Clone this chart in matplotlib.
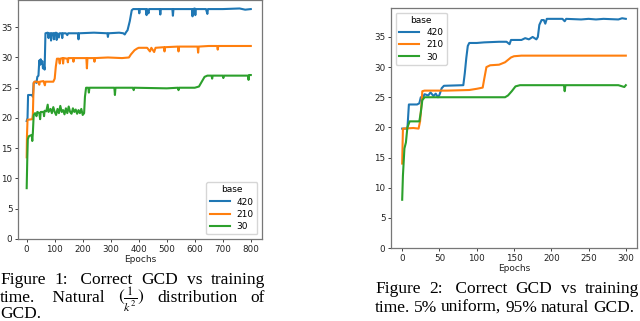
import matplotlib
matplotlib.use("Agg")
import matplotlib.pyplot as plt

# series 1: natural distribution, 800 epochs  (epoch, correct GCD)
nat_420 = [(0, 19.5), (3, 20), (5, 23.8), (20, 23.8), (22, 23.5), (25, 25.8), (30, 26), (35, 25.8),
           (38, 26.8), (42, 27), (45, 29.5), (48, 28.8), (50, 29.7), (53, 29), (56, 29.4), (58, 28.2),
           (62, 28.5), (64, 28), (67, 34), (75, 34.1), (78, 33.2), (80, 34), (85, 34), (87, 32.8),
           (89, 34), (95, 34), (97, 33.0), (99, 34), (105, 34.1), (107, 32.9), (109, 34), (115, 33.3),
           (117, 34), (125, 34), (127, 33.2), (129, 34), (140, 34), (145, 33.7), (148, 34), (183, 34),
           (185, 33), (187, 34), (240, 34.1), (288, 34), (290, 33.4), (292, 34), (330, 34.1), (345, 34),
           (350, 33.8), (355, 34.2), (360, 34.5), (368, 36), (375, 37.8), (380, 38), (400, 38),
           (402, 37.3), (404, 38), (425, 38), (428, 37.0), (430, 38), (435, 37.3), (437, 38), (475, 38),
           (477, 37.1), (479, 38), (520, 38), (522, 36.9), (524, 38), (590, 38), (592, 36.8), (594, 38),
           (600, 38.1), (602, 37.0), (604, 38), (640, 38), (645, 37.2), (647, 38), (700, 38), (760, 38.1),
           (780, 37.9), (800, 38)]
nat_210 = [(0, 13.5), (1, 17), (3, 19.7), (20, 19.8), (22, 20.5), (25, 25.8), (28, 26), (40, 26),
           (45, 25.5), (47, 26), (60, 26.1), (65, 25.4), (67, 26), (95, 26), (100, 26.5), (104, 28.5),
           (108, 29.8), (115, 29.8), (118, 29.0), (120, 29.8), (128, 29.9), (130, 29), (132, 29.9),
           (145, 29.8), (147, 29.2), (149, 29.9), (165, 29.9), (167, 29.3), (169, 29.9), (213, 29.9),
           (215, 28.2), (217, 29.9), (240, 29.9), (242, 29.3), (244, 29.9), (290, 30), (340, 29.9),
           (365, 30), (372, 30.5), (385, 31.2), (395, 31.5), (400, 31.6), (430, 31.6), (440, 31.0),
           (445, 31.6), (455, 30.9), (460, 31.6), (490, 31.7), (492, 31.0), (494, 31.7), (540, 31.8),
           (542, 31.0), (544, 31.8), (610, 31.8), (612, 30.8), (614, 31.8), (650, 31.9), (680, 31.9),
           (682, 31.3), (684, 31.9), (750, 31.9), (800, 31.9)]
nat_30 = [(0, 8.4), (2, 13), (4, 16.5), (8, 17), (18, 17.2), (20, 16.2), (22, 17.5), (25, 20.5),
          (30, 20.8), (35, 20.3), (38, 21), (45, 20.8), (48, 19.8), (50, 21), (60, 21), (62, 20.3),
          (64, 21.2), (70, 21.1), (75, 22.2), (78, 21), (85, 21.5), (90, 20.8), (95, 21.8), (100, 21.0),
          (105, 20.5), (110, 21.5), (115, 20.8), (120, 22.0), (125, 21), (130, 21.3), (135, 20.6),
          (140, 21.6), (145, 20.8), (150, 21.9), (155, 21), (160, 20.7), (165, 21.6), (170, 21),
          (175, 21.4), (180, 20.7), (185, 21.3), (190, 20.8), (195, 21.5), (200, 20.5), (205, 20.8),
          (208, 23.5), (212, 25), (220, 25), (222, 24.2), (224, 25), (313, 25), (315, 23.8), (317, 25),
          (380, 25), (382, 24.6), (384, 25), (500, 24.9), (540, 25), (542, 24.6), (544, 25), (600, 25),
          (615, 25.2), (625, 26), (635, 26.8), (645, 27), (660, 27), (662, 26.5), (664, 27), (700, 27),
          (702, 26.6), (704, 27), (790, 27), (792, 26.3), (794, 27.1), (800, 27.1)]

# series 2: 5% uniform, 95% natural, 300 epochs
mix_420 = [(0, 19.8), (7, 19.8), (9, 23.8), (20, 23.8), (23, 24), (25, 25), (27, 24.8), (30, 25.5),
           (35, 25.3), (38, 25.8), (42, 25.2), (45, 25.6), (48, 25), (50, 25.4), (53, 26.5), (56, 26.9),
           (82, 27), (84, 29), (86, 31.5), (88, 33.5), (90, 34), (100, 34), (110, 34.1), (130, 34.2),
           (140, 34.2), (144, 33.8), (146, 34.5), (160, 34.5), (165, 34.8), (170, 34.6), (175, 35),
           (180, 34.6), (182, 35), (184, 37), (187, 37.8), (190, 37.8), (192, 37.2), (194, 38), (215, 38),
           (218, 37.6), (220, 38), (240, 37.9), (250, 38), (260, 37.9), (270, 38), (290, 37.9),
           (295, 38.1), (300, 38)]
mix_210 = [(0, 14), (1, 19.8), (15, 19.9), (22, 19.8), (24, 21), (26, 24), (27, 26), (30, 26.1),
           (60, 26.1), (90, 26.2), (100, 26.4), (108, 26.6), (110, 28), (113, 30), (118, 30.3),
           (130, 30.4), (138, 30.8), (142, 31.2), (146, 31.6), (150, 31.8), (160, 31.9), (300, 31.9)]
mix_30 = [(0, 8), (1, 12), (3, 16.5), (5, 17.5), (7, 20), (10, 21), (23, 21), (25, 22.5), (27, 24.5),
          (30, 25), (138, 25), (142, 25.3), (147, 26), (152, 26.8), (158, 27), (217, 27), (218, 26.0),
          (219, 27), (290, 27), (298, 26.7), (300, 27)]

bases = ['420', '210', '30']
colors = ['#1f77b4', '#ff7f0e', '#2ca02c']

W, H = 640, 321
fig = plt.figure(figsize=(W / 100, H / 100), dpi=100)
plt.rcParams['mathtext.fontset'] = 'stix'


def make_axes(box, series, xticks, ylim, legend_loc):
    ax = fig.add_axes(box)
    for s, name, c in zip(series, bases, colors):
        ax.plot([p[0] for p in s], [p[1] for p in s], color=c, lw=1.5, label=name)
    ax.set_ylim(*ylim)
    ax.set_xticks(xticks)
    ax.set_yticks(range(0, 36, 5))
    ax.tick_params(labelsize=6.3, length=2.5, width=0.6, pad=1.5, colors='#222')
    for sp in ax.spines.values():
        sp.set_color('#777')
        sp.set_linewidth(0.9)
    ax.set_xlabel('Epochs', fontsize=6.5, labelpad=1, color='#222')
    ax.legend(title='base', loc=legend_loc, fontsize=6.5, title_fontsize=6.5,
              handlelength=2.2, borderpad=0.4, labelspacing=0.35)
    return ax


ax1 = make_axes([18 / W, 1 - 239 / H, 244 / W, 239 / H], [nat_420, nat_210, nat_30],
                range(0, 801, 100), (0, 39.5), 'lower right')
ax1.set_xlim(-31, 840)
ax2 = make_axes([391 / W, 1 - 248 / H, 246 / W, 240 / H], [mix_420, mix_210, mix_30],
                range(0, 301, 50), (0, 39.8), 'upper left')
ax2.set_xlim(-15, 315)

# captions, justified like in the paper
renderer = fig.canvas.get_renderer()


def caption_line(words, x0, x1, y, justify=True):
    texts = [fig.text(0, 1 - y / H, w, fontsize=12.5, family='Liberation Serif', va='baseline')
             for w in words]
    widths = [t.get_window_extent(renderer).width for t in texts]
    gap = (x1 - x0 - sum(widths)) / max(len(words) - 1, 1) if justify else 3.5
    x = x0
    for t, w in zip(texts, widths):
        t.set_x(x / W)
        x += w + gap


caption_line(['Figure', '1:', ' Correct', 'GCD', 'vs', 'training'], 0, 265, 283.5)
caption_line(['time.', ' Natural', r'$(\frac{1}{k^2})$', 'distribution', 'of'], 0, 265, 302)
caption_line(['GCD.'], 0, 265, 318.5, justify=False)
caption_line(['Figure', '2:', ' Correct', 'GCD', 'vs', 'training'], 375, 639, 293)
caption_line(['time.', '5%', 'uniform,', '95%', 'natural', 'GCD.'], 375, 634, 312)

fig.savefig('out.png', dpi=100)
